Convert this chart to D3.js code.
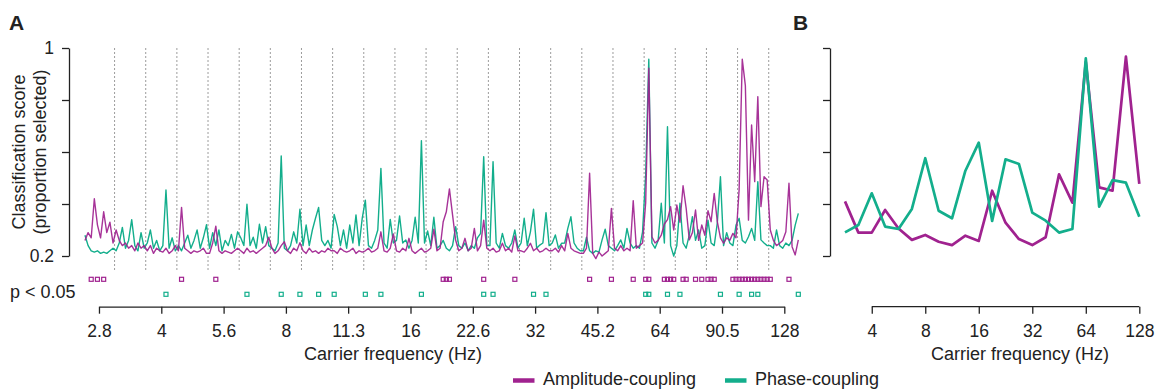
<!DOCTYPE html>
<html>
<head>
<meta charset="utf-8">
<script src="https://cdn.jsdelivr.net/npm/d3@7"></script>
<style>
  body { margin: 0; background: #fff; }
  svg { display: block; font-family: "Liberation Sans", Arial, Helvetica, sans-serif; }
</style>
</head>
<body>
<svg id="chart" width="1161" height="389"></svg>
<script>
// Panel A: fine carrier frequency grid (1/40 octave steps), 230 bins
const freqA = d3.range(230).map(i => 2 ** (1.3875 + 0.025 * i));
// quarter-octave bin edges (dotted lines)
const binEdges = d3.range(22).map(k => 2 ** (1.625 + 0.25 * k));

const ampA = [
  0.26, 0.29, 0.27, 0.42, 0.32, 0.27, 0.37, 0.29, 0.33, 0.25,
  0.30, 0.26, 0.24, 0.25, 0.23, 0.24, 0.22, 0.25, 0.23, 0.24,
  0.22, 0.24, 0.21, 0.23, 0.22, 0.215, 0.23, 0.21, 0.22, 0.24,
  0.22, 0.387, 0.23, 0.22, 0.21, 0.22, 0.215, 0.22, 0.23, 0.21,
  0.21, 0.25, 0.315, 0.22, 0.21, 0.22, 0.215, 0.21, 0.22, 0.23,
  0.22, 0.21, 0.23, 0.215, 0.22, 0.21, 0.22, 0.23, 0.24, 0.272,
  0.23, 0.21, 0.22, 0.24, 0.255, 0.22, 0.21, 0.23, 0.22, 0.251,
  0.22, 0.21, 0.23, 0.215, 0.22, 0.21, 0.22, 0.215, 0.23, 0.22,
  0.22, 0.21, 0.23, 0.22, 0.215, 0.22, 0.23, 0.21, 0.22, 0.215,
  0.22, 0.23, 0.215, 0.22, 0.23, 0.293, 0.22, 0.215, 0.23, 0.285,
  0.22, 0.215, 0.23, 0.22, 0.268, 0.22, 0.21, 0.22, 0.23, 0.215,
  0.22, 0.23, 0.303, 0.22, 0.23, 0.332, 0.37, 0.458, 0.358, 0.26,
  0.22, 0.23, 0.268, 0.22, 0.23, 0.306, 0.22, 0.24, 0.338, 0.23,
  0.22, 0.23, 0.215, 0.22, 0.249, 0.22, 0.23, 0.215, 0.277, 0.22,
  0.22, 0.215, 0.23, 0.249, 0.22, 0.23, 0.215, 0.22, 0.23, 0.22,
  0.22, 0.23, 0.215, 0.24, 0.22, 0.287, 0.23, 0.22, 0.215, 0.21,
  0.21, 0.23, 0.518, 0.21, 0.19, 0.215, 0.20, 0.21, 0.22, 0.383,
  0.23, 0.22, 0.24, 0.22, 0.23, 0.22, 0.413, 0.23, 0.24, 0.25,
  0.405, 0.922, 0.274, 0.25, 0.26, 0.28, 0.323, 0.34, 0.39, 0.30,
  0.396, 0.33, 0.47, 0.383, 0.262, 0.29, 0.377, 0.26, 0.319, 0.28,
  0.374, 0.332, 0.441, 0.332, 0.27, 0.249, 0.27, 0.26, 0.287, 0.27,
  0.456, 0.957, 0.855, 0.338, 0.704, 0.486, 0.813, 0.39, 0.505, 0.492,
  0.30, 0.26, 0.24, 0.249, 0.26, 0.293, 0.48, 0.236, 0.204, 0.262
];

const phaseA = [
  0.28, 0.24, 0.22, 0.215, 0.22, 0.21, 0.215, 0.21, 0.22, 0.23,
  0.22, 0.25, 0.31, 0.23, 0.26, 0.34, 0.24, 0.22, 0.29, 0.23,
  0.25, 0.30, 0.23, 0.26, 0.22, 0.24, 0.454, 0.23, 0.27, 0.22,
  0.24, 0.22, 0.25, 0.28, 0.23, 0.26, 0.30, 0.23, 0.27, 0.32,
  0.23, 0.29, 0.24, 0.30, 0.22, 0.26, 0.24, 0.283, 0.23, 0.293,
  0.27, 0.24, 0.399, 0.24, 0.272, 0.23, 0.322, 0.25, 0.313, 0.24,
  0.23, 0.22, 0.25, 0.585, 0.23, 0.22, 0.24, 0.293, 0.25, 0.38,
  0.24, 0.319, 0.24, 0.30, 0.345, 0.387, 0.26, 0.24, 0.26, 0.23,
  0.36, 0.313, 0.24, 0.30, 0.23, 0.319, 0.25, 0.358, 0.24, 0.345,
  0.415, 0.24, 0.23, 0.26, 0.30, 0.537, 0.25, 0.23, 0.341, 0.25,
  0.26, 0.354, 0.25, 0.262, 0.23, 0.26, 0.349, 0.25, 0.643, 0.25,
  0.296, 0.24, 0.349, 0.23, 0.24, 0.26, 0.23, 0.22, 0.24, 0.313,
  0.24, 0.23, 0.25, 0.22, 0.24, 0.23, 0.27, 0.287, 0.582, 0.24,
  0.24, 0.563, 0.25, 0.23, 0.287, 0.24, 0.23, 0.25, 0.30, 0.23,
  0.25, 0.345, 0.24, 0.293, 0.38, 0.23, 0.242, 0.25, 0.367, 0.24,
  0.25, 0.281, 0.23, 0.249, 0.25, 0.306, 0.351, 0.25, 0.23, 0.22,
  0.22, 0.272, 0.22, 0.21, 0.22, 0.215, 0.262, 0.303, 0.24, 0.23,
  0.22, 0.24, 0.262, 0.23, 0.306, 0.25, 0.23, 0.24, 0.23, 0.293,
  0.514, 0.957, 0.25, 0.23, 0.26, 0.403, 0.25, 0.697, 0.24, 0.20,
  0.24, 0.403, 0.25, 0.23, 0.28, 0.351, 0.26, 0.30, 0.23, 0.24,
  0.338, 0.25, 0.24, 0.328, 0.505, 0.24, 0.29, 0.25, 0.24, 0.319,
  0.345, 0.26, 0.25, 0.274, 0.306, 0.26, 0.486, 0.262, 0.25, 0.24,
  0.24, 0.23, 0.30, 0.24, 0.23, 0.25, 0.24, 0.26, 0.319, 0.364
];

// significant bins (p < 0.05), as indices into freqA
const ampSig = [2, 4, 6, 31, 42, 115, 116, 117, 128, 138, 162, 169, 176, 180, 181,
  186, 187, 188, 189, 192, 193, 196, 198, 200, 201, 202,
  208, 209, 210, 211, 212, 213, 214, 215, 216, 217, 218, 219, 220, 226];
const phaseSig = [26, 52, 63, 69, 75, 80, 90, 95, 108, 128, 131, 144, 148, 180, 181,
  187, 191, 204, 210, 214, 216, 229];

const tickValsA = [2.828, 4, 5.657, 8, 11.31, 16, 22.63, 32, 45.25, 64, 90.51, 128];
const tickLabelsA = ["2.8", "4", "5.6", "8", "11.3", "16", "22.6", "32", "45.2", "64", "90.5", "128"];

// Panel B: quarter-octave bins
const freqB = d3.range(23).map(k => 2 ** (1.5 + 0.25 * k));
const ampB = [0.41, 0.29, 0.29, 0.377, 0.306, 0.262, 0.281, 0.255, 0.242, 0.278, 0.258, 0.451,
  0.328, 0.265, 0.242, 0.272, 0.514, 0.405, 0.947, 0.464, 0.451, 0.967, 0.477];
const phaseB = [0.291, 0.319, 0.441, 0.313, 0.304, 0.381, 0.576, 0.374, 0.345, 0.528, 0.636, 0.335,
  0.572, 0.554, 0.367, 0.336, 0.29, 0.304, 0.96, 0.39, 0.492, 0.482, 0.351];
const tickValsB = [4, 8, 16, 32, 64, 128];

const yTicks = [0.2, 0.4, 0.6, 0.8, 1];

const purple = "#a0228f";
const teal = "#13ae8c";
const ink = "#222";

const svg = d3.select("#chart");

const xA = d3.scaleLog().base(2).domain([2 ** 1.5, 128]).range([99, 784.3]);
const yA = d3.scaleLinear().domain([0.2, 1]).range([256, 48]);
const xB = d3.scaleLog().base(2).domain([2 ** 1.5, 128]).range([845, 1139.3]);
const yB = yA.copy();

function styleAxis(g, size) {
  g.attr("font-family", null).attr("font-size", null);
  g.selectAll("path, line").attr("stroke", ink).attr("stroke-width", 1.3);
  g.selectAll("text").attr("fill", ink).style("font-size", size + "px");
}

// dotted bin edges
svg.append("g").selectAll("line")
  .data(binEdges)
  .join("line")
  .attr("x1", d => xA(d)).attr("x2", d => xA(d))
  .attr("y1", 48).attr("y2", 270)
  .attr("stroke", "#9c9c9c")
  .attr("stroke-width", 1)
  .attr("stroke-dasharray", "2,2");

// panel A lines
const lineA = d3.line().x((d, i) => xA(freqA[i])).y(d => yA(d));
svg.append("path").datum(phaseA)
  .attr("d", lineA).attr("fill", "none")
  .attr("stroke", teal).attr("stroke-width", 1.4).attr("stroke-linejoin", "round");
svg.append("path").datum(ampA)
  .attr("d", lineA).attr("fill", "none")
  .attr("stroke", purple).attr("stroke-width", 1.4).attr("stroke-linejoin", "round")
  .attr("stroke-opacity", 0.92);

// significance markers
svg.append("g").selectAll("rect")
  .data(ampSig)
  .join("rect")
  .attr("x", d => xA(freqA[d]) - 2).attr("y", 277.3)
  .attr("width", 4).attr("height", 4)
  .attr("fill", "none").attr("stroke", purple).attr("stroke-width", 1.2);
svg.append("g").selectAll("rect")
  .data(phaseSig)
  .join("rect")
  .attr("x", d => xA(freqA[d]) - 2).attr("y", 292.3)
  .attr("width", 4).attr("height", 4)
  .attr("fill", "none").attr("stroke", teal).attr("stroke-width", 1.2);

svg.append("text")
  .attr("x", 10).attr("y", 297.5)
  .attr("fill", ink).style("font-size", "18px")
  .text("p < 0.05");

// panel A axes
svg.append("g")
  .attr("transform", "translate(69,0)")
  .call(d3.axisLeft(yA).tickValues(yTicks)
    .tickFormat(d => d === 1 ? "1" : d === 0.2 ? "0.2" : "")
    .tickSize(7).tickSizeOuter(0).tickPadding(8))
  .call(g => styleAxis(g, 17.5));

svg.append("g")
  .attr("transform", "translate(0,306.7)")
  .call(d3.axisBottom(xA).tickValues(tickValsA)
    .tickFormat((d, i) => tickLabelsA[i])
    .tickSize(7).tickSizeOuter(0).tickPadding(11))
  .call(g => styleAxis(g, 17.5));

svg.append("text")
  .attr("x", 393).attr("y", 360).attr("text-anchor", "middle")
  .attr("fill", ink).style("font-size", "18px")
  .text("Carrier frequency (Hz)");

svg.append("text")
  .attr("transform", "translate(25,152) rotate(-90)")
  .attr("text-anchor", "middle").attr("fill", ink).style("font-size", "18px")
  .text("Classification score");
svg.append("text")
  .attr("transform", "translate(46,152) rotate(-90)")
  .attr("text-anchor", "middle").attr("fill", ink).style("font-size", "18px")
  .text("(proportion selected)");

// panel B
svg.append("g")
  .attr("transform", "translate(830,0)")
  .call(d3.axisLeft(yB).tickValues(yTicks).tickFormat("")
    .tickSize(7).tickSizeOuter(0))
  .call(g => styleAxis(g, 17.5));

svg.append("g")
  .attr("transform", "translate(0,306.7)")
  .call(d3.axisBottom(xB).tickValues(tickValsB)
    .tickFormat(d3.format("d"))
    .tickSize(7).tickSizeOuter(0).tickPadding(11))
  .call(g => g.select(".domain").attr("d", `M${xB(4)},0H${xB(128)}`))
  .call(g => styleAxis(g, 17.5));

const lineB = d3.line().x((d, i) => xB(freqB[i])).y(d => yB(d));
svg.append("path").datum(ampB)
  .attr("d", lineB).attr("fill", "none")
  .attr("stroke", purple).attr("stroke-width", 2.7).attr("stroke-linejoin", "round");
svg.append("path").datum(phaseB)
  .attr("d", lineB).attr("fill", "none")
  .attr("stroke", teal).attr("stroke-width", 2.7).attr("stroke-linejoin", "round");

svg.append("text")
  .attr("x", 1020).attr("y", 360).attr("text-anchor", "middle")
  .attr("fill", ink).style("font-size", "18px")
  .text("Carrier frequency (Hz)");

// panel letters
svg.append("text").attr("x", 9).attr("y", 30)
  .attr("fill", ink).style("font-size", "21px").style("font-weight", "bold").text("A");
svg.append("text").attr("x", 793).attr("y", 30)
  .attr("fill", ink).style("font-size", "21px").style("font-weight", "bold").text("B");

// legend
const legend = [
  {label: "Amplitude-coupling", color: purple, x: 513},
  {label: "Phase-coupling", color: teal, x: 725}
];
const lg = svg.append("g").selectAll("g").data(legend).join("g")
  .attr("transform", d => `translate(${d.x},380.5)`);
lg.append("line").attr("x1", 0).attr("x2", 21.5)
  .attr("stroke", d => d.color).attr("stroke-width", 4.5);
lg.append("text").attr("x", 30).attr("y", 4.5)
  .attr("fill", ink).style("font-size", "18px")
  .text(d => d.label);
</script>
</body>
</html>
